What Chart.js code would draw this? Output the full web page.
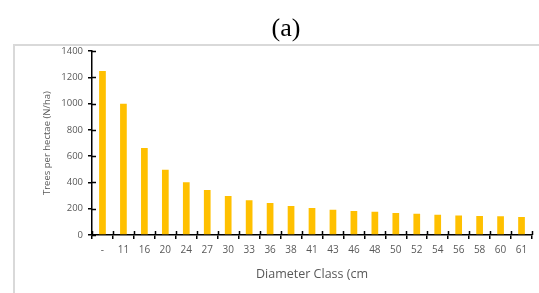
<!DOCTYPE html>
<html>
<head>
<meta charset="utf-8">
<script src="https://cdn.jsdelivr.net/npm/chart.js@4"></script>
<style>
    html, body { margin: 0; padding: 0; background: #fff; }
    #marco {
        position: absolute; left: 13px; top: 44px; width: 600px; height: 300px;
        border-top: 2px solid #d9d9d9; border-left: 2px solid #d9d9d9;
    }
    #grafico-area { position: absolute; left: 0; top: 0; }
</style>
</head>
<body>
<div id="marco"></div>
<canvas id="grafico-area" width="539" height="293"></canvas>
<script>
// clases diametricas y arboles por hectarea
const clasesDiametro = ["-", "11", "16", "20", "24", "27", "30", "33", "36", "38", "41",
    "43", "46", "48", "50", "52", "54", "56", "58", "60", "61"];
const arbolesHectarea = [1250, 1000, 662, 497, 401, 342, 297, 264, 244, 221, 205,
    193, 182, 177, 167, 161, 154, 149, 144, 143, 138];
const ticksY = [0, 200, 400, 600, 800, 1000, 1200, 1400];

const gris = "#595959";

// marcas de tick hacia adentro (cruzan el eje)
const marcasInternas = {
    id: 'marcasInternas',
    afterDraw(chart) {
        const ctx = chart.ctx;
        const x = chart.scales.x;
        const y = chart.scales.y;
        ctx.save();
        ctx.strokeStyle = "#000";
        ctx.lineWidth = 1.5;
        ctx.beginPath();
        ticksY.forEach(v => {
            let py = Math.round(y.getPixelForValue(v)) + 0.5;
            ctx.moveTo(y.right, py);
            ctx.lineTo(y.right + 4, py);
        });
        for (let i = 0; i <= clasesDiametro.length; i++) {
            let px = Math.round(x.getPixelForValue(i - 0.5)) + 0.5;
            ctx.moveTo(px, x.top);
            ctx.lineTo(px, x.top - 4);
        }
        ctx.stroke();
        ctx.restore();
    }
};

const ctx = document.getElementById('grafico-area');

graficoArboles = new Chart(ctx, {
    type: 'bar',
    data: {
        labels: clasesDiametro,
        datasets: [{
            label: 'Trees per hectae (N/ha)',
            data: arbolesHectarea,
            backgroundColor: "#FFC000",
            borderWidth: 0,
            barPercentage: 0.32,
            categoryPercentage: 1
        }]
    },
    options: {
        responsive: false,
        animation: false,
        layout: { padding: { left: 40, right: 7, top: 0, bottom: 9 } },
        plugins: {
            legend: { display: false },
            tooltip: { enabled: false },
            title: {
                display: true,
                text: '(a)',
                color: "#000",
                font: { family: "Liberation Serif", size: 26, weight: 'normal' },
                padding: { top: 14, bottom: 6 }
            }
        },
        scales: {
            x: {
                offset: true,
                border: { display: true, color: "#000", width: 1.5 },
                grid: { display: true, drawOnChartArea: false, offset: true, tickLength: 4, color: "#000", lineWidth: 1.5 },
                ticks: { color: gris, padding: 5, maxRotation: 0, autoSkip: false, font: { family: "Open Sans", size: 10 } },
                title: {
                    display: true,
                    text: 'Diameter Class (cm',
                    color: gris,
                    font: { family: "Open Sans", size: 12.5 },
                    padding: { top: 6, bottom: 2 }
                }
            },
            y: {
                min: 0,
                max: 1400,
                afterFit: function (scale) { scale.width = 52; },
                afterBuildTicks: function (scale) { scale.ticks = ticksY.map(v => ({ value: v })); },
                border: { display: true, color: "#000", width: 1.5 },
                grid: { display: true, drawOnChartArea: false, tickLength: 4, color: "#000", lineWidth: 1.5 },
                ticks: {
                    color: gris, padding: 5, font: { family: "Open Sans", size: 9.5 },
                    callback: function (value) { return String(value); }
                },
                title: {
                    display: true,
                    text: 'Trees per hectae (N/ha)',
                    color: gris,
                    font: { family: "Open Sans", size: 9.5 },
                    padding: { top: 2, bottom: 0 }
                }
            }
        }
    },
    plugins: [marcasInternas]
});
</script>
</body>
</html>
